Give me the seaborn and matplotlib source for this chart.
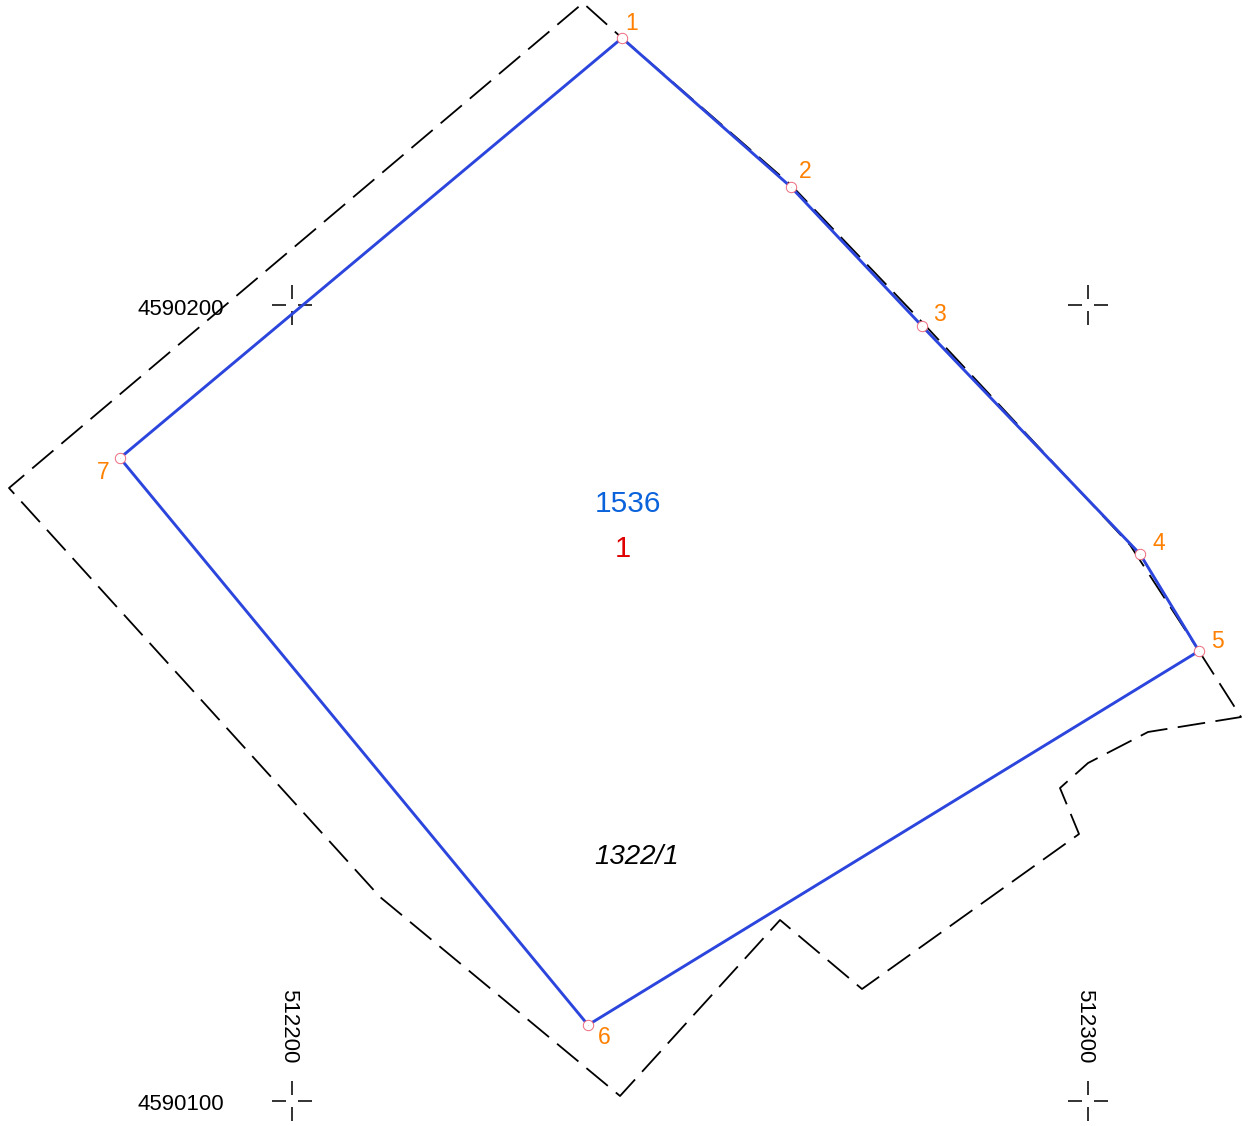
import matplotlib
matplotlib.use("Agg")
import matplotlib.pyplot as plt
from matplotlib.path import Path
import pandas as pd
import seaborn as sns

# Map coordinates (easting / northing)
parcel_e = [512241.46, 512262.69, 512279.15, 512306.53, 512313.94, 512237.19, 512178.39, 512241.46]
parcel_n = [4590233.54, 4590214.82, 4590197.36, 4590168.72, 4590156.53, 4590109.55, 4590180.78, 4590233.54]

old_e = [512313.94, 512319.22, 512307.54, 512300.00, 512296.48, 512298.87, 512271.61, 512261.31,
         512241.21, 512211.06, 512164.45, 512236.56, 512241.46, 512262.69, 512279.15, 512305.28, 512313.94]
old_n = [4590156.53, 4590148.24, 4590146.36, 4590142.46, 4590139.32, 4590133.54, 4590114.07, 4590122.74,
         4590100.63, 4590125.63, 4590177.01, 4590237.94, 4590233.54, 4590215.08, 4590197.86, 4590169.85, 4590156.53]

vertex_e = parcel_e[:-1]
vertex_n = parcel_n[:-1]
vertex_labels = ["1", "2", "3", "4", "5", "6", "7"]
vertex_label_e = [512242.71, 512264.45, 512281.28, 512308.92, 512316.21, 512239.20, 512176.26]
vertex_label_n = [4590235.33, 4590216.73, 4590198.77, 4590170.08, 4590157.69, 4590107.94, 4590179.00]

grid_e = [512200, 512300]
grid_n = [4590200, 4590100]
grid_e_labels = ["512200", "512300"]
grid_n_labels = ["4590200", "4590100"]

area_label = "1536"
number_label = "1"
parcel_label = "1322/1"

BLUE = "#2B45DD"
ORANGE = "#FF8000"

sns.set_theme(style="white")
plt.rcParams["font.family"] = ["Liberation Sans", "DejaVu Sans"]
plt.rcParams["lines.scale_dashes"] = False

fig = plt.figure(figsize=(12.5, 11.26), dpi=100)
ax = fig.add_axes([0, 0, 1, 1])

old_df = pd.DataFrame({"e": old_e, "n": old_n})
sns.lineplot(data=old_df, x="e", y="n", sort=False, estimator=None, color="black", lw=1.3,
             linestyle=(0, (20, 7.5)), dash_capstyle="butt", ax=ax, legend=False, zorder=2)

parcel_df = pd.DataFrame({"e": parcel_e, "n": parcel_n})
sns.lineplot(data=parcel_df, x="e", y="n", sort=False, estimator=None, color=BLUE, lw=2.1,
             ax=ax, legend=False, zorder=3)

vertex_df = pd.DataFrame({"e": vertex_e, "n": vertex_n})
sns.scatterplot(data=vertex_df, x="e", y="n", s=56, facecolor="white", edgecolor="#EE6A7C",
                linewidth=0.7, ax=ax, legend=False, zorder=4)
sns.scatterplot(data=vertex_df, x="e", y="n", s=0.5, color="#C04050", linewidth=0,
                ax=ax, legend=False, zorder=5)

# Grid crosses: four arms with a gap at the centre
arms = Path(
    [(-20, 0), (-6, 0), (6, 0), (20, 0), (0, -20), (0, -6), (0, 6), (0, 20)],
    [Path.MOVETO, Path.LINETO] * 4,
)
for n in grid_n:
    for e in grid_e:
        ax.plot([e], [n], marker=arms, ms=28.8, mew=1.2, mec="#111111", mfc="none",
                linestyle="none", zorder=1)

for e, n, t in zip(vertex_label_e, vertex_label_n, vertex_labels):
    ax.text(e, n, t, color=ORANGE, fontsize=16.5, ha="center", va="center")

for n, t in zip(grid_n, grid_n_labels):
    ax.text(grid_e[0] - 8.54, n - 0.5, t, color="black", fontsize=16, ha="right", va="center")
for e, t in zip(grid_e, grid_e_labels):
    ax.text(e - 0.45, grid_n[1] + 9.42, t, color="black", fontsize=16, rotation=-90,
            ha="center", va="center")

ax.text(512242.21, 4590175.05, area_label, color="#0A63DB", fontsize=21.5,
        ha="center", va="center")
ax.text(512241.58, 4590169.30, number_label, color="#E00000", fontsize=21,
        ha="center", va="center")
ax.text(512243.34, 4590130.65, parcel_label, color="black", fontsize=20, style="italic",
        ha="center", va="center")

ax.set_xlim(512163.32, 512320.35)
ax.set_ylim(4590096.86, 4590238.32)
ax.set_axis_off()
fig.savefig("out.png", dpi=100, facecolor="white")
